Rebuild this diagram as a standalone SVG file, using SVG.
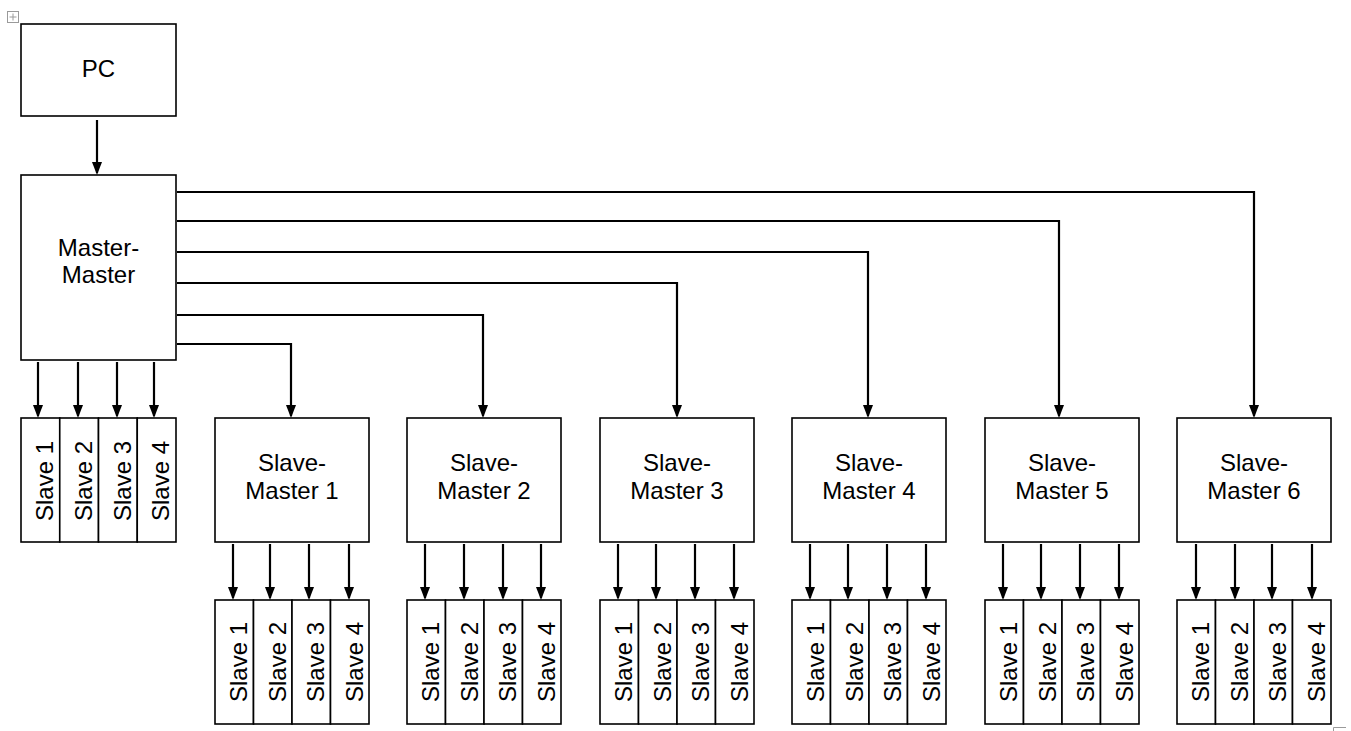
<svg xmlns="http://www.w3.org/2000/svg" width="1351" height="731" viewBox="0 0 1351 731">
<defs>
<style>
.box{fill:#fff;stroke:#000;stroke-width:1.6}
.t{font-family:"Liberation Sans",Arial,sans-serif;font-size:24px;fill:#000;text-anchor:middle}
.c{fill:none;stroke:#000;stroke-width:2.2}
.ui{fill:none;stroke:#9a9a9a;stroke-width:1}
</style>
<marker id="ah" viewBox="0 0 13 10" markerWidth="13" markerHeight="10" refX="11" refY="5" orient="auto" markerUnits="userSpaceOnUse">
<path d="M0,0 L13,5 L0,10 z" fill="#000"/>
</marker>
</defs>
<rect width="1351" height="731" fill="#fff"/>
<g id="ui-marks">
<rect class="ui" x="7.5" y="11.5" width="11" height="11"/>
<path class="ui" d="M13,13.5 V20.5 M9.5,17 H16.5"/>
<path class="ui" d="M1333.5,731 V727.5 H1346"/>
</g>

<g id="pc"><rect class="box" x="21" y="24" width="155" height="92"/><text class="t" x="98.5" y="77">PC</text></g>
<g id="master"><rect class="box" x="21" y="175" width="155" height="185"/><text class="t" x="98.5" y="256">Master-</text><text class="t" x="98.5" y="283">Master</text></g>

<g id="master-slaves">
<rect class="box" x="21" y="418" width="38.75" height="124"/>
<rect class="box" x="59.75" y="418" width="38.75" height="124"/>
<rect class="box" x="98.5" y="418" width="38.75" height="124"/>
<rect class="box" x="137.25" y="418" width="38.75" height="124"/>
<text class="t" transform="translate(53,481) rotate(-90)">Slave 1</text>
<text class="t" transform="translate(92,481) rotate(-90)">Slave 2</text>
<text class="t" transform="translate(130.5,481) rotate(-90)">Slave 3</text>
<text class="t" transform="translate(169,481) rotate(-90)">Slave 4</text>
</g>

<g id="sm1"><rect class="box" x="215" y="418" width="154" height="124"/><text class="t" x="292" y="471">Slave-</text><text class="t" x="292" y="499">Master 1</text></g>
<g id="sm2"><rect class="box" x="407" y="418" width="154" height="124"/><text class="t" x="484" y="471">Slave-</text><text class="t" x="484" y="499">Master 2</text></g>
<g id="sm3"><rect class="box" x="600" y="418" width="154" height="124"/><text class="t" x="677" y="471">Slave-</text><text class="t" x="677" y="499">Master 3</text></g>
<g id="sm4"><rect class="box" x="792" y="418" width="154" height="124"/><text class="t" x="869" y="471">Slave-</text><text class="t" x="869" y="499">Master 4</text></g>
<g id="sm5"><rect class="box" x="985" y="418" width="154" height="124"/><text class="t" x="1062" y="471">Slave-</text><text class="t" x="1062" y="499">Master 5</text></g>
<g id="sm6"><rect class="box" x="1177" y="418" width="154" height="124"/><text class="t" x="1254" y="471">Slave-</text><text class="t" x="1254" y="499">Master 6</text></g>

<g id="sm1-slaves">
<rect class="box" x="215" y="600" width="38.5" height="124"/><rect class="box" x="253.5" y="600" width="38.5" height="124"/><rect class="box" x="292" y="600" width="38.5" height="124"/><rect class="box" x="330.5" y="600" width="38.5" height="124"/>
<text class="t" transform="translate(247,662) rotate(-90)">Slave 1</text><text class="t" transform="translate(285.5,662) rotate(-90)">Slave 2</text><text class="t" transform="translate(324,662) rotate(-90)">Slave 3</text><text class="t" transform="translate(362.5,662) rotate(-90)">Slave 4</text>
</g>
<g id="sm2-slaves">
<rect class="box" x="407" y="600" width="38.5" height="124"/><rect class="box" x="445.5" y="600" width="38.5" height="124"/><rect class="box" x="484" y="600" width="38.5" height="124"/><rect class="box" x="522.5" y="600" width="38.5" height="124"/>
<text class="t" transform="translate(439,662) rotate(-90)">Slave 1</text><text class="t" transform="translate(477.5,662) rotate(-90)">Slave 2</text><text class="t" transform="translate(516,662) rotate(-90)">Slave 3</text><text class="t" transform="translate(554.5,662) rotate(-90)">Slave 4</text>
</g>
<g id="sm3-slaves">
<rect class="box" x="600" y="600" width="38.5" height="124"/><rect class="box" x="638.5" y="600" width="38.5" height="124"/><rect class="box" x="677" y="600" width="38.5" height="124"/><rect class="box" x="715.5" y="600" width="38.5" height="124"/>
<text class="t" transform="translate(632,662) rotate(-90)">Slave 1</text><text class="t" transform="translate(670.5,662) rotate(-90)">Slave 2</text><text class="t" transform="translate(709,662) rotate(-90)">Slave 3</text><text class="t" transform="translate(747.5,662) rotate(-90)">Slave 4</text>
</g>
<g id="sm4-slaves">
<rect class="box" x="792" y="600" width="38.5" height="124"/><rect class="box" x="830.5" y="600" width="38.5" height="124"/><rect class="box" x="869" y="600" width="38.5" height="124"/><rect class="box" x="907.5" y="600" width="38.5" height="124"/>
<text class="t" transform="translate(824,662) rotate(-90)">Slave 1</text><text class="t" transform="translate(862.5,662) rotate(-90)">Slave 2</text><text class="t" transform="translate(901,662) rotate(-90)">Slave 3</text><text class="t" transform="translate(939.5,662) rotate(-90)">Slave 4</text>
</g>
<g id="sm5-slaves">
<rect class="box" x="985" y="600" width="38.5" height="124"/><rect class="box" x="1023.5" y="600" width="38.5" height="124"/><rect class="box" x="1062" y="600" width="38.5" height="124"/><rect class="box" x="1100.5" y="600" width="38.5" height="124"/>
<text class="t" transform="translate(1017,662) rotate(-90)">Slave 1</text><text class="t" transform="translate(1055.5,662) rotate(-90)">Slave 2</text><text class="t" transform="translate(1094,662) rotate(-90)">Slave 3</text><text class="t" transform="translate(1132.5,662) rotate(-90)">Slave 4</text>
</g>
<g id="sm6-slaves">
<rect class="box" x="1177" y="600" width="38.5" height="124"/><rect class="box" x="1215.5" y="600" width="38.5" height="124"/><rect class="box" x="1254" y="600" width="38.5" height="124"/><rect class="box" x="1292.5" y="600" width="38.5" height="124"/>
<text class="t" transform="translate(1209,662) rotate(-90)">Slave 1</text><text class="t" transform="translate(1247.5,662) rotate(-90)">Slave 2</text><text class="t" transform="translate(1286,662) rotate(-90)">Slave 3</text><text class="t" transform="translate(1324.5,662) rotate(-90)">Slave 4</text>
</g>

<g id="connectors" marker-end="url(#ah)">
<path class="c" marker-end="url(#ah)" d="M97,120 V173"/>
<path class="c" marker-end="url(#ah)" d="M177,192 H1254 V416"/>
<path class="c" marker-end="url(#ah)" d="M177,221 H1059 V416"/>
<path class="c" marker-end="url(#ah)" d="M177,252 H868 V416"/>
<path class="c" marker-end="url(#ah)" d="M177,283 H677 V416"/>
<path class="c" marker-end="url(#ah)" d="M177,315 H483 V416"/>
<path class="c" marker-end="url(#ah)" d="M177,344 H291 V416"/>
<path class="c" marker-end="url(#ah)" d="M38,362 V416"/>
<path class="c" marker-end="url(#ah)" d="M78,362 V416"/>
<path class="c" marker-end="url(#ah)" d="M117,362 V416"/>
<path class="c" marker-end="url(#ah)" d="M154,362 V416"/>
<path class="c" marker-end="url(#ah)" d="M233,544 V598"/>
<path class="c" marker-end="url(#ah)" d="M270,544 V598"/>
<path class="c" marker-end="url(#ah)" d="M309,544 V598"/>
<path class="c" marker-end="url(#ah)" d="M349,544 V598"/>
<path class="c" marker-end="url(#ah)" d="M425,544 V598"/>
<path class="c" marker-end="url(#ah)" d="M464,544 V598"/>
<path class="c" marker-end="url(#ah)" d="M503,544 V598"/>
<path class="c" marker-end="url(#ah)" d="M541,544 V598"/>
<path class="c" marker-end="url(#ah)" d="M618,544 V598"/>
<path class="c" marker-end="url(#ah)" d="M656,544 V598"/>
<path class="c" marker-end="url(#ah)" d="M695,544 V598"/>
<path class="c" marker-end="url(#ah)" d="M734,544 V598"/>
<path class="c" marker-end="url(#ah)" d="M810,544 V598"/>
<path class="c" marker-end="url(#ah)" d="M848,544 V598"/>
<path class="c" marker-end="url(#ah)" d="M887,544 V598"/>
<path class="c" marker-end="url(#ah)" d="M926,544 V598"/>
<path class="c" marker-end="url(#ah)" d="M1003,544 V598"/>
<path class="c" marker-end="url(#ah)" d="M1041,544 V598"/>
<path class="c" marker-end="url(#ah)" d="M1080,544 V598"/>
<path class="c" marker-end="url(#ah)" d="M1119,544 V598"/>
<path class="c" marker-end="url(#ah)" d="M1196,544 V598"/>
<path class="c" marker-end="url(#ah)" d="M1235,544 V598"/>
<path class="c" marker-end="url(#ah)" d="M1272,544 V598"/>
<path class="c" marker-end="url(#ah)" d="M1312,544 V598"/>
</g>
</svg>
